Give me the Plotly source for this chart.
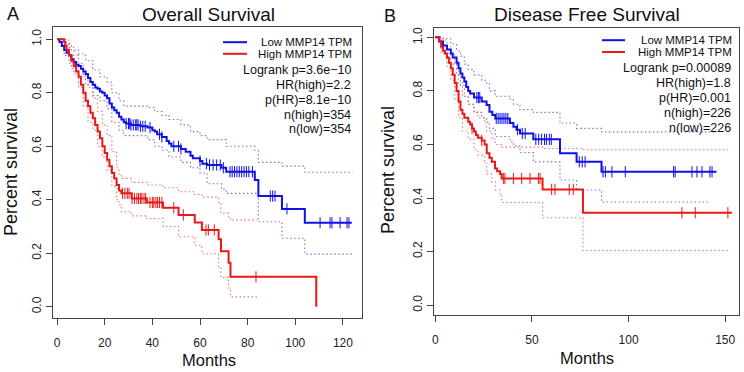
import plotly.graph_objects as go

W, H = 744, 372

# ---------------- Panel A: Overall Survival ----------------
a_low_t = [0, 1, 2, 3, 4, 5, 6, 7, 8, 9, 10, 11, 12, 13, 14, 15, 16, 17, 18, 19, 20, 21, 22, 23, 24, 25, 26, 27, 28, 29,
           31, 35, 38, 40, 41, 42, 44, 46, 47, 48, 52, 54, 56, 57, 60, 61, 63, 69, 71, 83, 84.5, 94.4, 104]
a_low_s = [1.0, 0.99, 0.975, 0.96, 0.95, 0.94, 0.925, 0.915, 0.905, 0.9, 0.89, 0.88, 0.87, 0.855, 0.84, 0.83, 0.82, 0.815,
           0.805, 0.8, 0.79, 0.78, 0.76, 0.745, 0.735, 0.725, 0.71, 0.70, 0.69, 0.685,
           0.68, 0.675, 0.67, 0.66, 0.655, 0.645, 0.635, 0.62, 0.61, 0.60, 0.59, 0.58, 0.565, 0.555, 0.545, 0.535, 0.53,
           0.52, 0.505, 0.474, 0.414, 0.366, 0.314]
a_low_end = 123.7
a_low_cens = [29, 30, 30.5, 31, 32, 33, 33.5, 34, 35, 36, 37, 39, 43, 44, 49, 51, 52, 60, 62.7, 64, 65.5, 67, 68.5, 69.8,
              72.6, 73.5, 74.5, 75.5, 76.5, 77.5, 78.5, 79.5, 80.5, 82, 89.5, 90.5, 91.5, 96.5,
              110.4, 114.6, 115.4, 118.8, 121.7, 122.5]
a_low_up_t = [0, 3, 6, 9, 12, 15, 18, 21, 23, 26, 28, 38, 41, 44, 47, 52, 56, 60, 63, 71, 83, 84.5, 94.4, 104]
a_low_up_s = [1.0, 0.985, 0.96, 0.945, 0.92, 0.885, 0.86, 0.84, 0.8, 0.77, 0.75, 0.745, 0.73, 0.715, 0.7, 0.68, 0.655,
              0.64, 0.625, 0.6, 0.585, 0.54, 0.526, 0.503]
a_low_lo_t = [0, 3, 6, 9, 12, 15, 18, 21, 23, 26, 28, 38, 41, 44, 47, 52, 56, 60, 63, 69, 71, 84.5, 94.4, 104]
a_low_lo_s = [1.0, 0.94, 0.89, 0.87, 0.83, 0.79, 0.77, 0.74, 0.69, 0.66, 0.64, 0.625, 0.6, 0.585, 0.56, 0.54, 0.52, 0.5,
              0.46, 0.44, 0.424, 0.318, 0.256, 0.197]
a_low_ci_end = 124

a_high_t = [0, 3, 3.5, 4, 5, 6, 7, 8, 9, 10, 11, 12, 13, 14, 15, 16, 17, 18, 19, 20, 21, 22, 23, 24, 25, 26, 27, 31.3,
            37.7, 44.5, 51, 57.8, 60.8, 67.8, 68.8, 72, 72.8, 108.8]
a_high_s = [1.0, 0.99, 0.975, 0.96, 0.94, 0.92, 0.9, 0.88, 0.86, 0.83, 0.8, 0.77, 0.75, 0.725, 0.705, 0.68, 0.655, 0.63,
            0.6, 0.575, 0.55, 0.525, 0.5, 0.48, 0.455, 0.435, 0.424, 0.405, 0.39, 0.37, 0.343, 0.315, 0.287, 0.252,
            0.208, 0.165, 0.112, 0.0]
a_high_end = 108.8
a_high_cens = [27.5, 28.5, 29.5, 30.2, 31.5, 32.5, 33.5, 34.2, 35, 35.6, 36.5, 37.2, 39, 40, 40.6, 41.5, 42.2, 43, 44,
               49, 53, 62.5, 63.5, 66, 83.5]
a_high_up_t = [0, 3, 5, 7, 9, 11, 13, 15, 17, 19, 21, 23, 25, 26, 27, 31.3, 37.7, 44.5, 51, 57.8, 60.8, 67.8, 68.8, 72,
               72.8]
a_high_up_s = [1.0, 1.0, 0.97, 0.94, 0.91, 0.86, 0.82, 0.78, 0.73, 0.68, 0.64, 0.58, 0.52, 0.49, 0.48, 0.465, 0.455,
               0.445, 0.43, 0.42, 0.41, 0.39, 0.35, 0.33, 0.325]
a_high_lo_t = [0, 3, 5, 7, 9, 11, 13, 15, 17, 19, 21, 23, 25, 26, 27, 31.3, 37.7, 44.5, 51, 57.8, 60.8, 67.8, 68.8, 72,
               72.8]
a_high_lo_s = [1.0, 0.98, 0.91, 0.87, 0.82, 0.75, 0.69, 0.66, 0.6, 0.56, 0.51, 0.45, 0.4, 0.38, 0.355, 0.34, 0.33, 0.30,
               0.262, 0.23, 0.198, 0.15, 0.11, 0.07, 0.037]
a_high_ci_end = 84

# ---------------- Panel B: Disease Free Survival ----------------
b_low_t = [0, 2, 4, 6, 8, 9, 11, 12, 13, 14, 15, 16, 17, 18, 20, 24, 26.5, 28, 29.5, 31, 38.6, 40.4, 42, 43.8, 50.7,
           64.5, 73.1, 86]
b_low_s = [1.0, 0.985, 0.97, 0.955, 0.94, 0.925, 0.905, 0.885, 0.865, 0.85, 0.835, 0.815, 0.8, 0.79, 0.775, 0.76, 0.747,
           0.722, 0.71, 0.697, 0.68, 0.666, 0.655, 0.641, 0.619, 0.567, 0.535, 0.498]
b_low_end = 145.5
b_low_cens = [21.5, 22.3, 23, 31.5, 32.5, 33.5, 34.5, 35.5, 36.5, 37.5, 42.5, 45, 46.5, 52, 53.5, 55, 56.5, 57.5, 59,
              60, 74.5, 76, 77.5, 86.8, 88, 91.4, 98.3, 123.3, 124.1, 132.8, 135.4, 138, 142.1, 143.2]
b_low_up_t = [0, 4, 8, 11, 13, 15, 17, 20, 24, 26.5, 28, 31, 38.6, 40.4, 43.8, 50.7, 64.5, 73.1, 86]
b_low_up_s = [1.0, 0.995, 0.975, 0.95, 0.93, 0.9, 0.88, 0.86, 0.84, 0.83, 0.8, 0.78, 0.77, 0.75, 0.73, 0.72, 0.68, 0.66,
              0.647]
b_low_up_end = 145
b_low_lo_t = [0, 4, 8, 11, 13, 15, 17, 20, 24, 26.5, 28, 31, 38.6, 40.4, 43.8, 50.7, 64.5, 73.1, 86]
b_low_lo_s = [1.0, 0.94, 0.9, 0.86, 0.82, 0.78, 0.75, 0.72, 0.7, 0.685, 0.66, 0.63, 0.61, 0.595, 0.57, 0.535, 0.467,
              0.43, 0.385]
b_low_lo_end = 142

b_high_t = [0, 2, 3, 4, 5, 6, 7, 8, 9, 10, 11, 12, 13, 14, 15, 17, 18, 19, 20, 21, 22, 24, 25.5, 26.6, 28, 29.2, 30.9,
            32, 33.5, 34.3, 55.5, 76.4]
b_high_s = [1.0, 0.985, 0.965, 0.95, 0.94, 0.925, 0.905, 0.885, 0.86, 0.83, 0.8, 0.76, 0.73, 0.715, 0.7, 0.685, 0.675,
            0.66, 0.648, 0.635, 0.625, 0.615, 0.6, 0.567, 0.55, 0.535, 0.51, 0.5, 0.49, 0.473, 0.432, 0.345]
b_high_end = 153.5
b_high_cens = [19, 24, 35.2, 36, 40.4, 44.7, 49, 53.3, 54.2, 60.2, 61.9, 69.3, 71.4, 127.6, 134.5, 151.4]
b_high_up_t = [0, 3, 6, 8, 10, 12, 14, 17, 20, 22, 25.5, 26.6, 29.2, 31, 34.3, 55.5, 76.4]
b_high_up_s = [1.0, 0.99, 0.965, 0.94, 0.9, 0.83, 0.78, 0.75, 0.72, 0.7, 0.68, 0.65, 0.62, 0.6, 0.59, 0.585, 0.58]
b_high_lo_t = [0, 3, 6, 8, 10, 12, 14, 17, 20, 22, 25.5, 26.6, 29.2, 31, 33.5, 34.3, 55.5, 76.4]
b_high_lo_s = [1.0, 0.94, 0.89, 0.84, 0.77, 0.7, 0.65, 0.62, 0.58, 0.56, 0.53, 0.49, 0.46, 0.43, 0.41, 0.383, 0.326,
               0.204]
b_high_ci_end = 151.5

a_stats = ["Logrank p=3.6e\u221210", "HR(high)=2.2", "p(HR)=8.1e\u221210", "n(high)=354", "n(low)=354"]
b_stats = ["Logrank p=0.00089", "HR(high)=1.8", "p(HR)=0.001", "n(high)=226", "n(low)=226"]
series_names = ["Low MMP14 TPM", "High MMP14 TPM"]
x_ticks_a = [0, 20, 40, 60, 80, 100, 120]
x_ticks_b = [0, 50, 100, 150]
y_ticks = [0, 0.2, 0.4, 0.6, 0.8, 1.0]
y_tick_text = ["0.0", "0.2", "0.4", "0.6", "0.8", "1.0"]

BLUE = "#1010e8"
RED = "#e81818"
BLUE_CI = "rgba(80,80,215,0.8)"
RED_CI = "rgba(235,80,80,0.8)"
DOT = "1.5px,2.5px"
FONT = "Liberation Sans, Arial, sans-serif"


def step_value(ts, ss, t):
    v = ss[0]
    for ti, si in zip(ts, ss):
        if ti <= t:
            v = si
    return v


fig = go.Figure()


def add_curve(ts, ss, end, color, xa, ya, width=2, dash=None):
    xs = list(ts) + ([end] if end > ts[-1] else [])
    ys = list(ss) + ([ss[-1]] if end > ts[-1] else [])
    fig.add_trace(go.Scatter(x=xs, y=ys, mode="lines", line=dict(color=color, width=width, shape="hv",
                                                                  dash=dash or "solid"),
                             xaxis=xa, yaxis=ya, showlegend=False, hoverinfo="skip"))


def add_cens(ts, ss, cens, color, xa, ya):
    fig.add_trace(go.Scatter(x=cens, y=[step_value(ts, ss, c) for c in cens], mode="markers",
                             marker=dict(symbol="line-ns", size=8, line=dict(color=color, width=1)),
                             xaxis=xa, yaxis=ya, showlegend=False, hoverinfo="skip"))


# Panel A
add_curve(a_low_up_t, a_low_up_s, a_low_ci_end, BLUE_CI, "x", "y", 1.1, DOT)
add_curve(a_low_lo_t, a_low_lo_s, a_low_ci_end, BLUE_CI, "x", "y", 1.1, DOT)
add_curve(a_high_up_t, a_high_up_s, a_high_ci_end, RED_CI, "x", "y", 1.1, DOT)
add_curve(a_high_lo_t, a_high_lo_s, a_high_ci_end, RED_CI, "x", "y", 1.1, DOT)
add_curve(a_low_t, a_low_s, a_low_end, BLUE, "x", "y")
add_curve(a_high_t, a_high_s, a_high_end, RED, "x", "y")
add_cens(a_low_t, a_low_s, a_low_cens, BLUE, "x", "y")
add_cens(a_high_t, a_high_s, a_high_cens, RED, "x", "y")

# Panel B
add_curve(b_low_up_t, b_low_up_s, b_low_up_end, BLUE_CI, "x2", "y2", 1.1, DOT)
add_curve(b_low_lo_t, b_low_lo_s, b_low_lo_end, BLUE_CI, "x2", "y2", 1.1, DOT)
add_curve(b_high_up_t, b_high_up_s, b_high_ci_end, RED_CI, "x2", "y2", 1.1, DOT)
add_curve(b_high_lo_t, b_high_lo_s, b_high_ci_end, RED_CI, "x2", "y2", 1.1, DOT)
add_curve(b_low_t, b_low_s, b_low_end, BLUE, "x2", "y2")
add_curve(b_high_t, b_high_s, b_high_end, RED, "x2", "y2")
add_cens(b_low_t, b_low_s, b_low_cens, BLUE, "x2", "y2")
add_cens(b_high_t, b_high_s, b_high_cens, RED, "x2", "y2")


def px(x):
    return x / W


def py(y):
    return 1 - y / H


axis_common = dict(showline=True, mirror=True, linecolor="#444", linewidth=1, ticks="outside", ticklen=6,
                   tickcolor="#444", showgrid=False, zeroline=False, automargin=False,
                   tickfont=dict(family=FONT, size=12, color="#222"))

fig.update_layout(
    width=W, height=H, margin=dict(l=0, r=0, t=0, b=0), plot_bgcolor="white", paper_bgcolor="white",
    xaxis=dict(domain=[px(53), px(362)], range=[-1.7, 128], tickvals=x_ticks_a, anchor="y",
               ticklabelstandoff=8, **axis_common),
    yaxis=dict(domain=[py(318), py(27)], range=[-0.042, 1.046], tickvals=y_ticks, ticktext=y_tick_text,
               tickangle=-90, anchor="x", **axis_common),
    xaxis2=dict(domain=[px(433.7), px(738.7)], range=[-0.85, 157], tickvals=x_ticks_b, anchor="y2",
                ticklabelstandoff=8, **axis_common),
    yaxis2=dict(domain=[py(315), py(28)], range=[-0.037, 1.035], tickvals=y_ticks, ticktext=y_tick_text,
                tickangle=-90, anchor="x2", **axis_common),
)

ann = []


def text(x, y, s, size, xanchor="center", angle=0):
    ann.append(dict(x=px(x), y=py(y), xref="paper", yref="paper", text=s, showarrow=False, xanchor=xanchor,
                    yanchor="middle", textangle=angle, font=dict(family=FONT, size=size, color="#111")))


# Panel labels and titles
text(13, 14, "A", 18)
text(390, 16, "B", 18)
text(209, 15, "Overall Survival", 19)
text(587, 15, "Disease Free Survival", 19)
text(209, 360, "Months", 16.5)
text(587, 358, "Months", 16.5)
text(11, 172, "Percent survival", 18, angle=-90)
text(388, 170, "Percent survival", 18, angle=-90)

shapes = []
leg_a_y = [42.2, 53.8]
leg_b_y = [40.2, 52.0]
for name, yy, col in zip(series_names, leg_a_y, [BLUE, RED]):
    shapes.append(dict(type="line", xref="paper", yref="paper", x0=px(223), x1=px(247), y0=py(yy), y1=py(yy),
                       line=dict(color=col, width=2)))
    text(354, yy, name, 11.5, xanchor="right")
for i, s in enumerate(a_stats):
    text(353, 70.5 + 14.7 * i, s, 12.5, xanchor="right")
for name, yy, col in zip(series_names, leg_b_y, [BLUE, RED]):
    shapes.append(dict(type="line", xref="paper", yref="paper", x0=px(602), x1=px(625), y0=py(yy), y1=py(yy),
                       line=dict(color=col, width=2)))
    text(734, yy, name, 11.5, xanchor="right")
for i, s in enumerate(b_stats):
    text(733, 68.3 + 15 * i, s, 12.5, xanchor="right")

fig.update_layout(annotations=ann, shapes=shapes)
fig.write_html("out.html", post_script="document.body.style.margin='0px';",
               config={"displayModeBar": False})
